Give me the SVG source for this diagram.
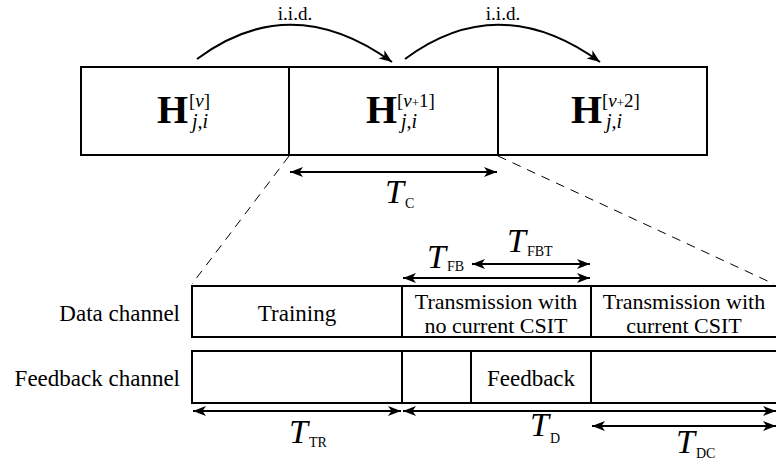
<svg xmlns="http://www.w3.org/2000/svg" width="776" height="466" viewBox="0 0 776 466">
<style>
.box{fill:none;stroke:#000;stroke-width:2}
.ln{fill:none;stroke:#000;stroke-width:2}
.dash{fill:none;stroke:#000;stroke-width:1;stroke-dasharray:9 7}
.arr{fill:none;stroke:#000;stroke-width:2;marker-end:url(#ah);marker-start:url(#ahs)}
.arc{fill:none;stroke:#000;stroke-width:2;marker-end:url(#ah)}
.lbl{font-size:23px}
.lbl2{font-size:22px;text-anchor:middle}
.iid{font-size:19px;text-anchor:middle}
.H{font-size:40px;font-weight:bold}
.sup{font-size:19px}
.sub{font-size:20px;font-style:italic}
.T{font-size:34px;font-style:italic}
.ts{font-size:14px}
</style>
<defs>
<marker id="ah" markerUnits="userSpaceOnUse" markerWidth="16" markerHeight="12" refX="13" refY="5" orient="auto" overflow="visible">
<path d="M0,0 L13,5 L0,10 L3.5,5 Z" fill="#000"/>
</marker>
<marker id="ahs" markerUnits="userSpaceOnUse" markerWidth="16" markerHeight="12" refX="13" refY="5" orient="auto-start-reverse" overflow="visible">
<path d="M0,0 L13,5 L0,10 L3.5,5 Z" fill="#000"/>
</marker>
</defs>
<g font-family="'Liberation Serif', 'Times New Roman', 'DejaVu Serif', serif" fill="#000">

<g id="block1">
<rect class="box" x="81" y="67" width="208" height="88"/>
<text class="H" x="157" y="123">H</text>
<text class="sup" x="189" y="107">[<tspan font-style="italic">ν</tspan>]</text>
<text class="sub" x="192" y="128">j,i</text>
</g>
<g id="block2">
<rect class="box" x="289" y="67" width="209" height="88"/>
<text class="H" x="366" y="123">H</text>
<text class="sup" x="397" y="107">[<tspan font-style="italic">ν</tspan><tspan font-size="13">+</tspan>1]</text>
<text class="sub" x="401" y="128">j,i</text>
</g>
<g id="block3">
<rect class="box" x="498" y="67" width="209" height="88"/>
<text class="H" x="571" y="123">H</text>
<text class="sup" x="602" y="107">[<tspan font-style="italic">ν</tspan><tspan font-size="13">+</tspan>2]</text>
<text class="sub" x="606" y="128">j,i</text>
</g>

<g id="labels-iid">
<text class="iid" x="295" y="20">i.i.d.</text>
<text class="iid" x="503" y="20">i.i.d.</text>
</g>

<g id="data-channel">
<text class="lbl" x="180" y="321" text-anchor="end">Data channel</text>
<path class="box" d="M780,286 H192 V337 H780"/>
<line class="ln" x1="402" y1="286" x2="402" y2="337"/>
<line class="ln" x1="591" y1="286" x2="591" y2="337"/>
<text class="lbl" x="297" y="321" text-anchor="middle">Training</text>
<text class="lbl2" x="496" y="309">Transmission with<tspan x="496" y="333">no current CSIT</tspan></text>
<text class="lbl2" x="684" y="309">Transmission with<tspan x="684" y="333">current CSIT</tspan></text>
</g>

<g id="feedback-channel">
<text class="lbl" x="180" y="386" text-anchor="end">Feedback channel</text>
<path class="box" d="M780,351 H192 V403 H780"/>
<line class="ln" x1="402" y1="351" x2="402" y2="403"/>
<line class="ln" x1="471" y1="351" x2="471" y2="403"/>
<line class="ln" x1="591" y1="351" x2="591" y2="403"/>
<text class="lbl" x="531" y="386" text-anchor="middle">Feedback</text>
</g>

<g id="connectors">
<path class="arc" d="M197,59 Q291,-11 392,62"/>
<path class="arc" d="M405,59 Q499,-11 600,62"/>
<line class="dash" x1="289" y1="156" x2="192" y2="284"/>
<line class="dash" x1="498" y1="156" x2="774" y2="284"/>
<line class="arr" x1="290" y1="172" x2="497" y2="172"/>
<line class="arr" x1="472" y1="264" x2="590" y2="264"/>
<line class="arr" x1="403" y1="278" x2="590" y2="278"/>
<line class="arr" x1="193" y1="411" x2="401" y2="411"/>
<line class="arr" x1="403" y1="411" x2="776" y2="411"/>
<line class="arr" x1="592" y1="426" x2="776" y2="426"/>
</g>

<g id="dimension-labels">
<text x="385" y="203"><tspan class="T">T</tspan><tspan class="ts" dx="1" dy="5">C</tspan></text>
<text x="427" y="268"><tspan class="T">T</tspan><tspan class="ts" dx="1" dy="3">FB</tspan></text>
<text x="507" y="252"><tspan class="T">T</tspan><tspan class="ts" dx="1" dy="4">FBT</tspan></text>
<text x="289" y="443"><tspan class="T">T</tspan><tspan class="ts" dx="1" dy="4">TR</tspan></text>
<text x="530" y="436"><tspan class="T">T</tspan><tspan class="ts" dx="1" dy="7">D</tspan></text>
<text x="676" y="453"><tspan class="T">T</tspan><tspan class="ts" dx="1" dy="5">DC</tspan></text>
</g>
</g>
</svg>
